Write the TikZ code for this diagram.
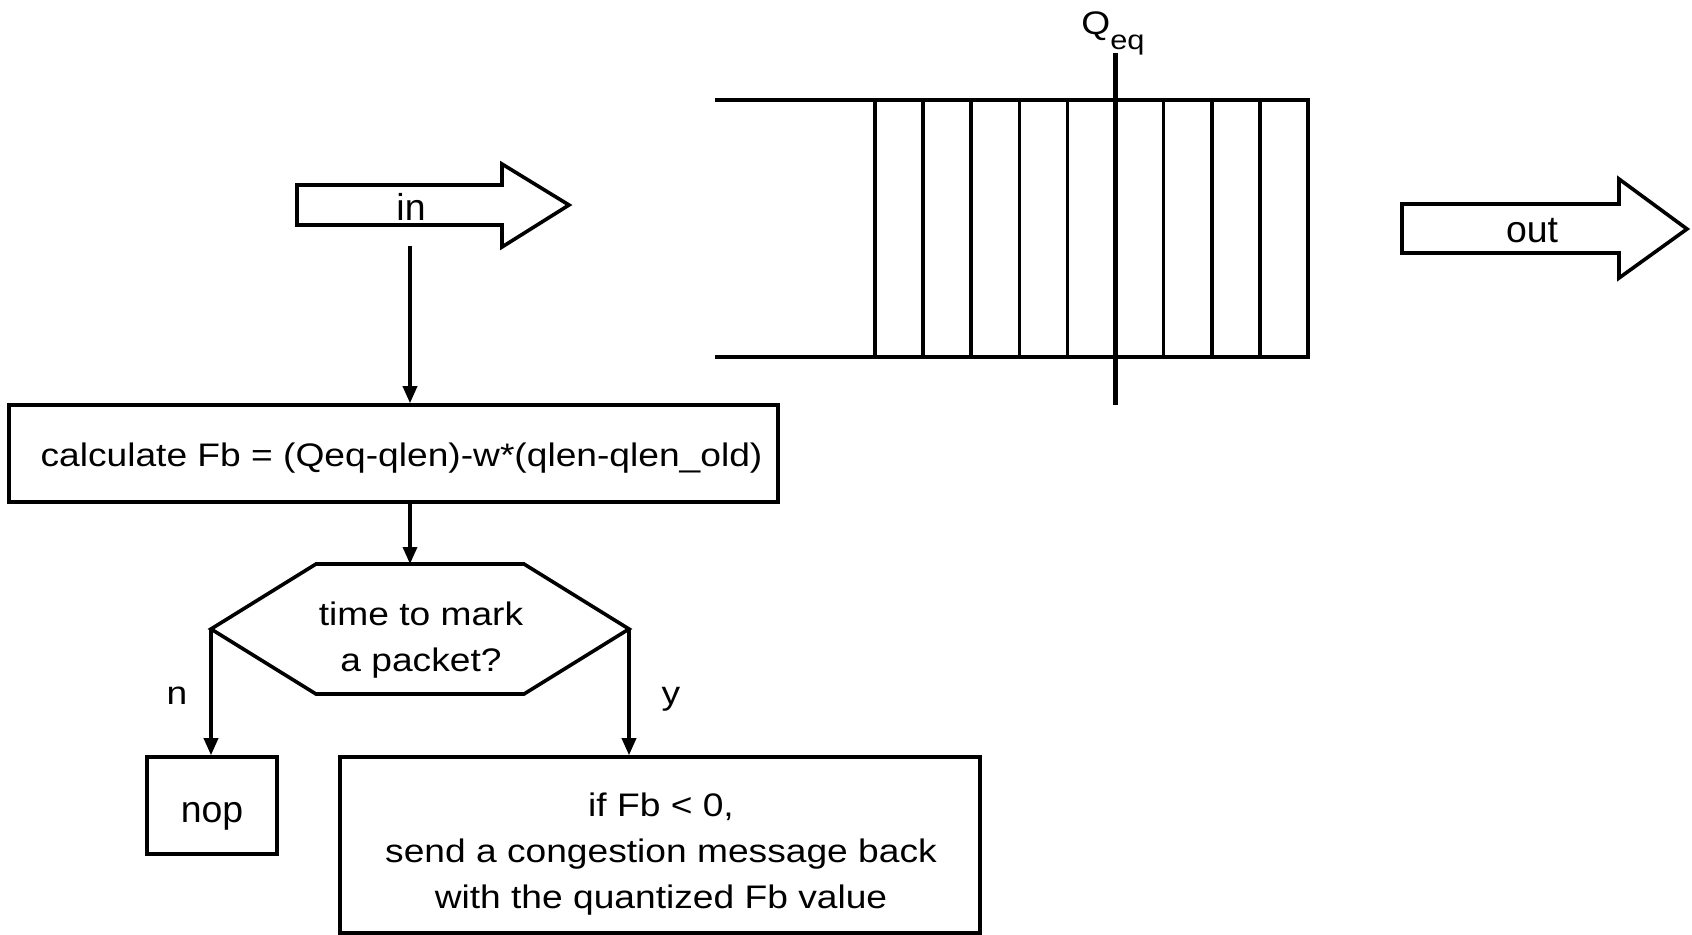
\documentclass[tikz,border=0pt]{standalone}
\usepackage{fontspec}
\setmainfont{Liberation Sans}[FakeStretch=1.14]
\newfontfamily\arrowfont{Liberation Sans}
\usetikzlibrary{arrows.meta}

\begin{document}
\begin{tikzpicture}[x=0.5pt, y=-0.5pt,
  lbl/.style={font=\fontsize{16.3pt}{23pt}\selectfont, inner sep=0pt},
  lblc/.style={lbl, align=center},
  biglbl/.style={font=\arrowfont\fontsize{18.7pt}{22pt}\selectfont, inner sep=0pt},
  box/.style={draw, line width=1.8pt, inner sep=0pt},
  outline/.style={draw, line width=1.8pt, line join=miter},
  slot/.style={line width=1.8pt},
  marker/.style={line width=2.2pt},
  flow/.style={line width=1.7pt, -{Triangle[length=8.5pt,width=7pt]}},
]
\useasboundingbox (0,0) rectangle (1692,934);

% incoming traffic arrow
\draw[outline] (297,185) -- (502,185) -- (502,164) -- (569,205) -- (502,247) -- (502,225) -- (297,225) -- cycle;
\node[biglbl, anchor=base] (inlbl) at (411,220) {in};

% outgoing traffic arrow
\draw[outline] (1402,204) -- (1619,204) -- (1619,179) -- (1687,229) -- (1619,278) -- (1619,253) -- (1402,253) -- cycle;
\node[biglbl, anchor=base] (outlbl) at (1532,242) {out};

% queue with packet slots
\draw[outline] (715,100) -- (1308,100) -- (1308,357) -- (715,357);
\foreach \k in {0,...,8}
  \draw[slot] ({875+48.1*\k},100) -- ({875+48.1*\k},357);
% equilibrium threshold
\draw[marker] (1115.5,53) -- (1115.5,405);
\node[lbl, anchor=base west] (qeq) at (1081,34) {Q\raisebox{-7.5pt}{\fontsize{13.5pt}{15pt}\selectfont eq}};

% flow chart
\coordinate (src) at (410,246);
\node[box, lbl, minimum width=384.5pt, text height=30.5pt, text depth=18pt] (calc) at (393.5,453.5)
  {\hspace*{8pt}calculate Fb = (Qeq-qlen)-w*(qlen-qlen\_old)};

\coordinate (decW) at (211,629);
\coordinate (decE) at (629,629);
\coordinate (decN) at (410,564);
\draw[outline] (decW) -- (316,564) -- (524,564) -- (decE) -- (524,694) -- (316,694) -- cycle;
\node[lblc] (dec) at (421,640) {time to mark\\a packet?};

\node[box, biglbl, minimum width=65pt, text height=32.5pt, text depth=16pt] (nop) at (212,805.5) {nop};
\node[box, minimum width=320pt, minimum height=88pt] (mark) at (660,845) {};
\node[lblc] (marktxt) at (661,854) {if Fb < 0,\\send a congestion message back\\with the quantized Fb value};

\node[lbl, anchor=base] (nlbl) at (177,704) {n};
\node[lbl, anchor=base] (ylbl) at (671,704) {y};

\draw[flow] (src) -- (src |- calc.north);
\draw[flow] (src |- calc.south) -- (decN);
\draw[flow] (decW) -- (decW |- nop.north);
\draw[flow] (decE) -- (decE |- mark.north);
\end{tikzpicture}
\end{document}
